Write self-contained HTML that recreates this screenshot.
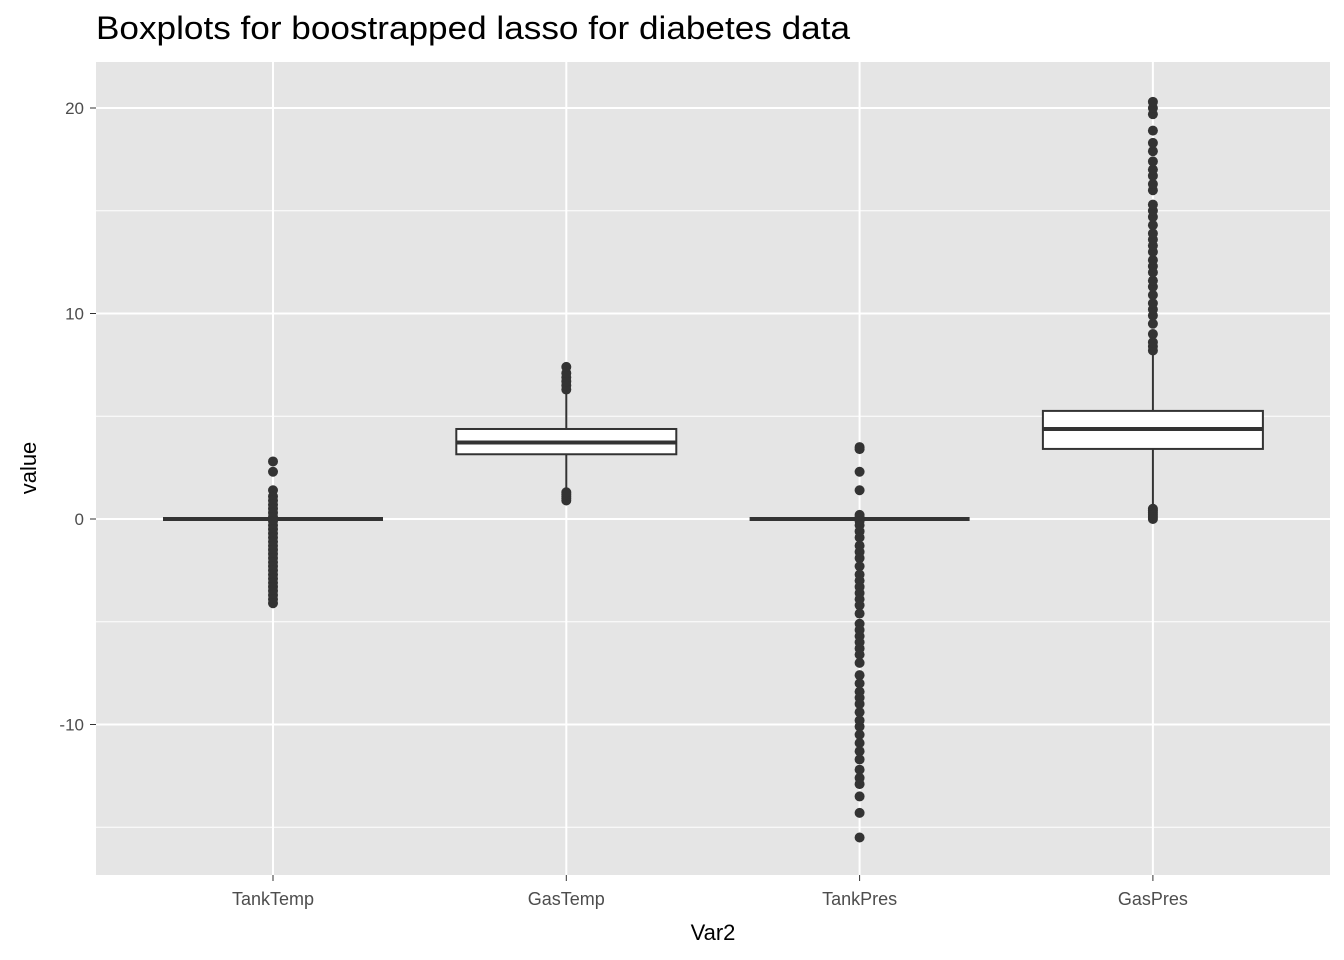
<!DOCTYPE html>
<html><head><meta charset="utf-8"><style>
body{margin:0;background:#fff;}
svg{display:block;font-family:"Liberation Sans",Arial,sans-serif;}
</style></head><body>
<svg id="chart" width="1344" height="960">
<rect x="96" y="62" width="1234" height="813" fill="#e5e5e5"/>
<g id="grid"></g><g id="marks"></g><g id="axes"></g>
<text x="96" y="39" font-size="32" textLength="754" lengthAdjust="spacingAndGlyphs" fill="#000">Boxplots for boostrapped lasso for diabetes data</text>
<text x="713" y="940" font-size="22" text-anchor="middle" fill="#000">Var2</text>
<text transform="translate(36,468) rotate(-90)" font-size="22" text-anchor="middle" fill="#000">value</text>
</svg>
<script>
const categories=["TankTemp","GasTemp","TankPres","GasPres"];
const q1=[0,3.15,0,3.41];
const med=[0,3.72,0,4.38];
const q3=[0,4.38,0,5.26];
const whiskLo=[0,1.4,0,0.6];
const whiskHi=[0,6.2,0,8.1];
const outTankTemp=[2.8,2.3,1.4,1.1,0.9,0.7,0.5,0.3,0.1,-0.1,-0.3,-0.5,-0.7,-0.9,-1.1,-1.3,-1.5,-1.7,-1.9,-2.1,-2.3,-2.5,-2.7,-2.9,-3.1,-3.3,-3.5,-3.7,-3.9,-4.1];
const outGasTemp=[6.3,6.5,6.7,6.9,7.1,7.4,0.9,1.0,1.1,1.2,1.3];
const outTankPres=[3.5,3.4,2.3,1.4,0.2,0.1,-0.1,-0.3,-0.6,-0.9,-1.3,-1.6,-1.9,-2.3,-2.7,-3.0,-3.3,-3.6,-3.9,-4.2,-4.6,-5.1,-5.4,-5.7,-6.0,-6.3,-6.6,-7.0,-7.6,-8.0,-8.4,-8.7,-9.0,-9.4,-9.8,-10.1,-10.5,-10.9,-11.3,-11.7,-12.2,-12.6,-12.9,-13.5,-14.3,-15.5];
const outGasPres=[8.2,8.4,8.6,9.0,9.5,9.9,10.2,10.5,10.9,11.3,11.6,12.0,12.3,12.6,13.0,13.3,13.6,13.9,14.3,14.7,15.0,15.3,16.0,16.3,16.7,17.0,17.4,17.9,18.3,18.9,19.7,20.0,20.3,0.5,0.4,0.3,0.2,0.1,0.0];
const outliers=[outTankTemp,outGasTemp,outTankPres,outGasPres];
const yTicks=[-10,0,10,20];
const yMinor=[-15,-5,5,15];
const NS="http://www.w3.org/2000/svg";
const y=v=>519-v*20.55;
const x=i=>273+i*293.3;
function mk(tag,attrs,parent){const e=document.createElementNS(NS,tag);for(const k in attrs)e.setAttribute(k,attrs[k]);parent.appendChild(e);return e;}
const grid=document.getElementById('grid'),marks=document.getElementById('marks'),axes=document.getElementById('axes');
yMinor.forEach(v=>{const l=mk('line',{x1:96,x2:1330,y1:y(v),y2:y(v),stroke:'#fff','stroke-width':1},grid);

});
yTicks.forEach(v=>{const l=mk('line',{x1:96,x2:1330,y1:y(v),y2:y(v),stroke:'#fff','stroke-width':2},grid);


const t=mk('text',{x:84,y:y(v)+6,'font-size':17,'text-anchor':'end',fill:'#4d4d4d'},axes);t.textContent=v;


const tk=mk('line',{x1:90,x2:96,y1:y(v),y2:y(v),stroke:'#333','stroke-width':1},axes);

});
categories.forEach((c,i)=>{const cx=x(i);
const g=mk('line',{x1:cx,x2:cx,y1:62,y2:875,stroke:'#fff','stroke-width':2},grid);


const t=mk('text',{x:cx,y:905,'font-size':18,'text-anchor':'middle',fill:'#4d4d4d'},axes);t.textContent=c;


const tk=mk('line',{x1:cx,x2:cx,y1:875,y2:881,stroke:'#333','stroke-width':1},axes);


const w1=mk('line',{x1:cx,x2:cx,y1:y(q3[i]),y2:y(whiskHi[i]),stroke:'#333','stroke-width':2},marks);


const w2=mk('line',{x1:cx,x2:cx,y1:y(q1[i]),y2:y(whiskLo[i]),stroke:'#333','stroke-width':2},marks);


const b=mk('rect',{x:cx-110,y:y(q3[i]),width:220,height:Math.max(0,y(q1[i])-y(q3[i])),fill:'#fff',stroke:'#333','stroke-width':2},marks);


const m=mk('line',{x1:cx-110,x2:cx+110,y1:y(med[i]),y2:y(med[i]),stroke:'#333','stroke-width':4},marks);


outliers[i].forEach(v=>{const p=mk('circle',{cx:cx,cy:y(v),r:5,fill:'#333'},marks);

});
});
</script>
</body></html>
